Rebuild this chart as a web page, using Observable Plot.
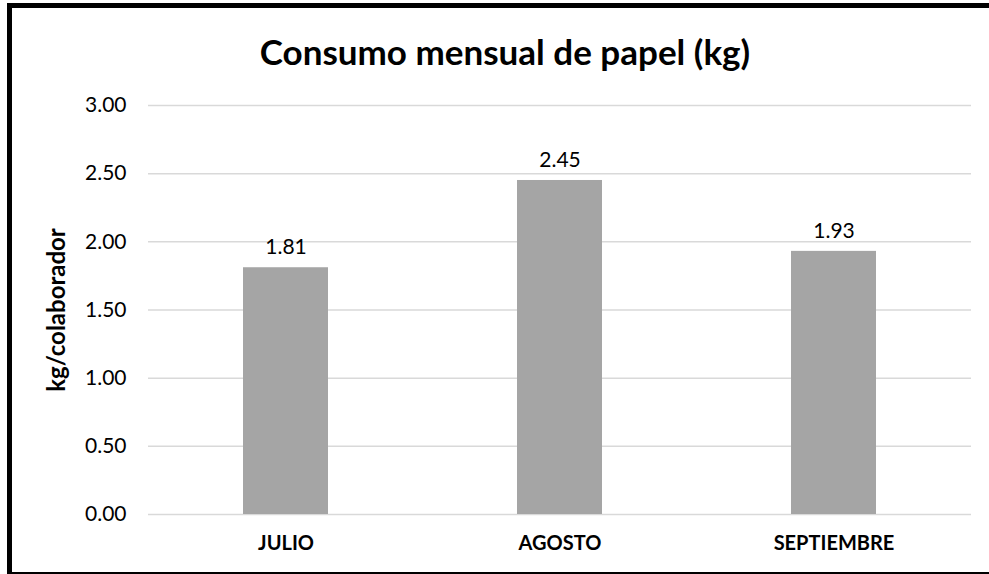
<!DOCTYPE html>
<html>
<head>
<meta charset="utf-8">
<script src="https://cdn.jsdelivr.net/npm/d3@7"></script>
<script src="https://cdn.jsdelivr.net/npm/@observablehq/plot@0.6"></script>
<style>
  html, body { margin: 0; padding: 0; background: #fff; width: 989px; height: 574px; overflow: hidden; }
  body { position: relative; font-family: Lato, "Open Sans", sans-serif; }
  #frame { position: absolute; left: 7px; top: 3px; width: 1000px; height: 571px; box-sizing: border-box;
           border-left: 5px solid #000; border-top: 5px solid #000; border-bottom: 2px solid #000; }
  #title { position: absolute; left: 0; width: 1010px; top: 28px; text-align: center;
           font-family: Lato, sans-serif; font-weight: 700; font-size: 35px; color: #000; line-height: 46px; }
  #chart { position: absolute; left: 0; top: 80px; }
  #chart svg g[aria-label="y-axis label"] text { font-weight: 700; font-size: 24px; }
  #chart svg g[aria-label="x-axis tick label"] text { font-weight: 700; }
</style>
</head>
<body>
<div id="frame"></div>
<div id="title">Consumo mensual de papel (kg)</div>
<div id="chart"></div>
<script>
const months = ["JULIO", "AGOSTO", "SEPTIEMBRE"];
const values = [1.81, 2.45, 1.93];
const yTicks = [0, 0.5, 1, 1.5, 2, 2.5, 3];
const yLabel = "kg/colaborador";

const data = months.map((m, i) => ({month: m, value: values[i]}));

const chart = Plot.plot({
  width: 989,
  height: 494,
  marginTop: 25,
  marginBottom: 60,
  marginLeft: 148,
  marginRight: 18,
  style: {fontFamily: "Lato, sans-serif", fontSize: "20px", color: "#000", background: "transparent", overflow: "visible"},
  x: {domain: months, paddingInner: 0.69, paddingOuter: 0.345, label: null},
  y: {domain: [0, 3], ticks: yTicks, label: yLabel},
  marks: [
    Plot.gridY(yTicks, {stroke: "#d9d9d9", strokeOpacity: 1, strokeWidth: 1.5}),
    Plot.barY(data, {x: "month", y: "value", fill: "#a5a5a5"}),
    Plot.text(data, {x: "month", y: "value", text: d => d.value.toFixed(2), dy: -20, fontSize: 21, fill: "#000"}),
    Plot.axisX({tickSize: 0, tickPadding: 21, fontSize: 20, label: null}),
    Plot.axisY(yTicks, {tickSize: 0, tickPadding: 22, tickFormat: d => d.toFixed(2), fontSize: 21,
      label: yLabel, labelAnchor: "center", labelArrow: "none", labelOffset: 101})
  ]
});
document.getElementById("chart").appendChild(chart);
</script>
</body>
</html>
